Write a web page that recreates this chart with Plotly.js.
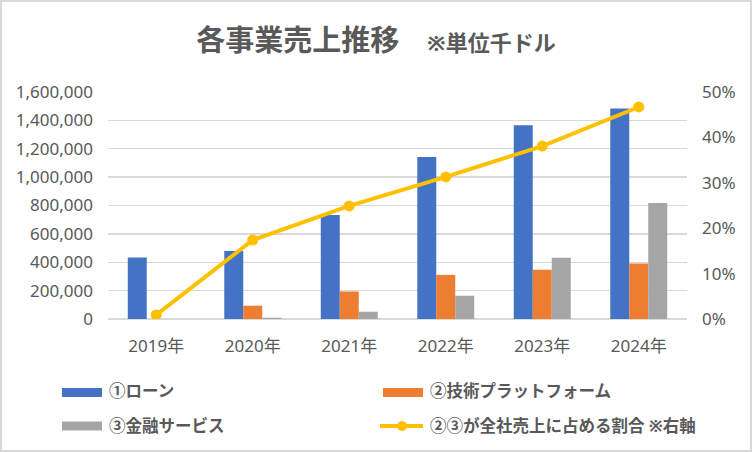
<!DOCTYPE html>
<html>
<head>
<meta charset="utf-8">
<script src="https://cdn.plot.ly/plotly-3.0.1.min.js"></script>
<style>
  html, body { margin: 0; padding: 0; background: #fff; }
  #wrap { position: relative; width: 752px; height: 452px; }
  #plot { position: absolute; left: 0; top: 0; width: 752px; height: 452px; }
  #frame { position: absolute; left: 0; top: 0; width: 752px; height: 452px;
           box-sizing: border-box; border: 2px solid #d9d9d9; pointer-events: none; }
</style>
</head>
<body>
<div id="wrap">
  <div id="plot"></div>
  <div id="frame"></div>
</div>
<script>
// データ（グラフから読み取り、単位：千ドル）
const years = ['2019年', '2020年', '2021年', '2022年', '2023年', '2024年'];
const loan = [433000, 480000, 733000, 1141000, 1366000, 1483000];
const techPlatform = [0, 93500, 194000, 311000, 347000, 391000];
const finance = [0, 9000, 51000, 164000, 431000, 818000];
const shareRatio = [0.009, 0.174, 0.249, 0.313, 0.381, 0.467];

const seriesNames = ['①ローン', '②技術プラットフォーム', '③金融サービス', '②③が全社売上に占める割合 ※右軸'];
const seriesColors = ['#4472C4', '#ED7D31', '#A5A5A5', '#FFC000'];

// 描画領域（px）
const W = 752, H = 452;
const M = { l: 108, r: 65, t: 92, b: 133 };
const fx = p => (p - M.l) / (W - M.l - M.r);
const fy = p => (H - M.b - p) / (H - M.t - M.b);

const font = '"Noto Sans", "Noto Sans CJK JP", sans-serif';

const barData = [loan, techPlatform, finance];
const traces = barData.map((vals, i) => ({
  type: 'bar',
  x: years,
  y: vals,
  name: seriesNames[i],
  marker: { color: seriesColors[i] },
  hoverinfo: 'skip'
}));

traces.push({
  type: 'scatter',
  mode: 'lines+markers',
  x: years,
  y: shareRatio,
  yaxis: 'y2',
  name: seriesNames[3],
  line: { color: seriesColors[3], width: 4 },
  marker: { color: seriesColors[3], size: 11 },
  hoverinfo: 'skip'
});

// 凡例（Excel風：2列×2行）
const legendPos = [
  { sx: 62, tx: 107, sy: 392.5, ty: 390.5 },
  { sx: 383, tx: 428, sy: 392.5, ty: 390.5 },
  { sx: 62, tx: 107, sy: 426, ty: 425 },
  { sx: 383, tx: 428, sy: 426, ty: 425 }
];

const shapes = [];
const annotations = [];
legendPos.forEach((p, i) => {
  if (i < 3) {
    shapes.push({
      type: 'rect', xref: 'paper', yref: 'paper',
      x0: fx(p.sx), x1: fx(p.sx + 40), y0: fy(p.sy - 4.5), y1: fy(p.sy + 4.5),
      fillcolor: seriesColors[i], line: { width: 0 }
    });
  } else {
    shapes.push({
      type: 'line', xref: 'paper', yref: 'paper',
      x0: fx(p.sx - 3), x1: fx(p.sx + 40), y0: fy(p.sy), y1: fy(p.sy),
      line: { color: seriesColors[i], width: 4 }
    });
    shapes.push({
      type: 'circle', xref: 'paper', yref: 'paper',
      x0: fx(p.sx + 14), x1: fx(p.sx + 24), y0: fy(p.sy - 5), y1: fy(p.sy + 5),
      fillcolor: seriesColors[i], line: { width: 0 }
    });
  }
  annotations.push({
    xref: 'paper', yref: 'paper',
    x: fx(p.tx), y: fy(p.ty),
    xanchor: 'left', yanchor: 'middle',
    text: '<b>' + seriesNames[i] + '</b>',
    showarrow: false,
    font: { family: font, size: 16.5, color: '#595959' }
  });
});

const layout = {
  width: W,
  height: H,
  margin: M,
  paper_bgcolor: '#ffffff',
  plot_bgcolor: '#ffffff',
  showlegend: false,
  barmode: 'group',
  bargap: 0.41,
  bargroupgap: 0,
  title: {
    text: '<b>各事業売上推移</b><span style="font-size:22px"><b>　 ※単位千ドル</b></span>',
    x: 0.5,
    xref: 'container',
    xanchor: 'center',
    y: 0.91,
    yref: 'container',
    yanchor: 'middle',
    font: { family: font, size: 29, color: '#595959' }
  },
  xaxis: {
    type: 'category',
    ticks: '',
    ticklabelstandoff: 15,
    showgrid: false,
    showline: false,
    zeroline: false,
    tickfont: { family: font, size: 17, color: '#595959' }
  },
  yaxis: {
    range: [0, 1600000],
    dtick: 200000,
    tickformat: ',d',
    showgrid: true,
    gridcolor: '#d9d9d9',
    gridwidth: 1.3,
    zeroline: true,
    zerolinecolor: '#d9d9d9',
    zerolinewidth: 1.3,
    showline: false,
    ticks: '',
    ticklabelstandoff: 14,
    tickfont: { family: font, size: 17, color: '#595959' }
  },
  yaxis2: {
    overlaying: 'y',
    side: 'right',
    range: [0, 0.5],
    dtick: 0.1,
    tickformat: '.0%',
    showgrid: false,
    zeroline: false,
    showline: false,
    ticks: '',
    ticklabelstandoff: 14,
    tickfont: { family: font, size: 17, color: '#595959' }
  },
  shapes: shapes,
  annotations: annotations
};

Plotly.newPlot('plot', traces, layout, { staticPlot: true, displayModeBar: false });
</script>
</body>
</html>
